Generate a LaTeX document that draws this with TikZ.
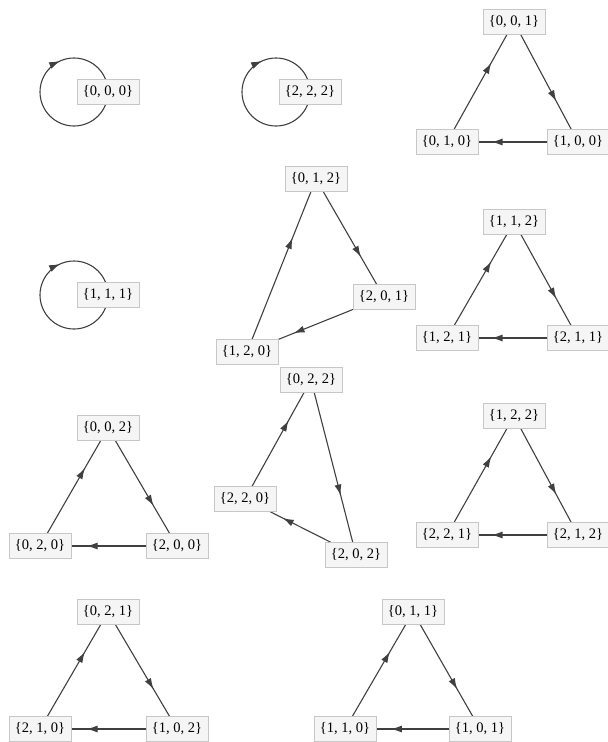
\documentclass[tikz,border=0pt]{standalone}
\usepackage{fontspec}
\newfontfamily\vfont{Liberation Serif}
\usetikzlibrary{arrows.meta,decorations.markings}
\pgfdeclarelayer{background}
\pgfsetlayers{background,main}
\begin{document}
\begin{tikzpicture}[x=1pt,y=-1pt,
  vtx/.style={draw=black!22, fill=black!4, minimum width=62pt, minimum height=25pt, inner sep=1pt,
    font={\vfont\fontsize{14.5}{16}\selectfont}},
  edge/.style={draw=black!75, line width=1.1pt, postaction=decorate,
    decoration={markings, mark=at position 0.66 with {\arrow{Latex[length=11pt,width=7pt]}}}},
  loopedge/.style={draw=black!75, line width=1.1pt, postaction=decorate,
    decoration={markings, mark=at position 0.683 with {\arrow{Latex[length=11pt,width=7pt]}}}}]
\useasboundingbox (0,0) rectangle (608,742);
% self loops
\node[vtx] (n000) at (108,92) {\{0, 0, 0\}};
\node[vtx] (n222) at (310,92) {\{2, 2, 2\}};
\node[vtx] (n111) at (108,295) {\{1, 1, 1\}};
% triangle 1
\node[vtx] (n001) at (514,22) {\{0, 0, 1\}};
\node[vtx] (n010) at (447,142) {\{0, 1, 0\}};
\node[vtx] (n100) at (578,142) {\{1, 0, 0\}};
% triangle 2
\node[vtx] (n012) at (316,179) {\{0, 1, 2\}};
\node[vtx] (n201) at (384,297) {\{2, 0, 1\}};
\node[vtx] (n120) at (247,352) {\{1, 2, 0\}};
% triangle 3
\node[vtx] (n112) at (514,222) {\{1, 1, 2\}};
\node[vtx] (n121) at (447,338) {\{1, 2, 1\}};
\node[vtx] (n211) at (578,338) {\{2, 1, 1\}};
% triangle 4
\node[vtx] (n002) at (108,428) {\{0, 0, 2\}};
\node[vtx] (n020) at (40,546) {\{0, 2, 0\}};
\node[vtx] (n200) at (177,546) {\{2, 0, 0\}};
% triangle 5
\node[vtx] (n022) at (311,380) {\{0, 2, 2\}};
\node[vtx] (n220) at (245,499) {\{2, 2, 0\}};
\node[vtx] (n202) at (356,555) {\{2, 0, 2\}};
% triangle 6
\node[vtx] (n122) at (514,416) {\{1, 2, 2\}};
\node[vtx] (n221) at (447,535) {\{2, 2, 1\}};
\node[vtx] (n212) at (578,535) {\{2, 1, 2\}};
% triangle 7
\node[vtx] (n021) at (108,612) {\{0, 2, 1\}};
\node[vtx] (n210) at (40,729) {\{2, 1, 0\}};
\node[vtx] (n102) at (177,729) {\{1, 0, 2\}};
% triangle 8
\node[vtx] (n011) at (413,612) {\{0, 1, 1\}};
\node[vtx] (n110) at (345,729) {\{1, 1, 0\}};
\node[vtx] (n101) at (480,729) {\{1, 0, 1\}};

\begin{pgfonlayer}{background}
\draw[loopedge] (n000.center) arc[start angle=0, end angle=-360, radius=34pt];
\draw[loopedge] (n222.center) arc[start angle=0, end angle=-360, radius=34pt];
\draw[loopedge] (n111.center) arc[start angle=0, end angle=-360, radius=34pt];

\draw[edge] (n010.center) -- (n001.center);
\draw[edge] (n001.center) -- (n100.center);
\draw[edge] (n100.center) -- (n010.center);

\draw[edge] (n120.center) -- (n012.center);
\draw[edge] (n012.center) -- (n201.center);
\draw[edge] (n201.center) -- (n120.center);

\draw[edge] (n121.center) -- (n112.center);
\draw[edge] (n112.center) -- (n211.center);
\draw[edge] (n211.center) -- (n121.center);

\draw[edge] (n020.center) -- (n002.center);
\draw[edge] (n002.center) -- (n200.center);
\draw[edge] (n200.center) -- (n020.center);

\draw[edge] (n220.center) -- (n022.center);
\draw[edge] (n022.center) -- (n202.center);
\draw[edge] (n202.center) -- (n220.center);

\draw[edge] (n221.center) -- (n122.center);
\draw[edge] (n122.center) -- (n212.center);
\draw[edge] (n212.center) -- (n221.center);

\draw[edge] (n210.center) -- (n021.center);
\draw[edge] (n021.center) -- (n102.center);
\draw[edge] (n102.center) -- (n210.center);

\draw[edge] (n110.center) -- (n011.center);
\draw[edge] (n011.center) -- (n101.center);
\draw[edge] (n101.center) -- (n110.center);
\end{pgfonlayer}
\end{tikzpicture}
\end{document}
